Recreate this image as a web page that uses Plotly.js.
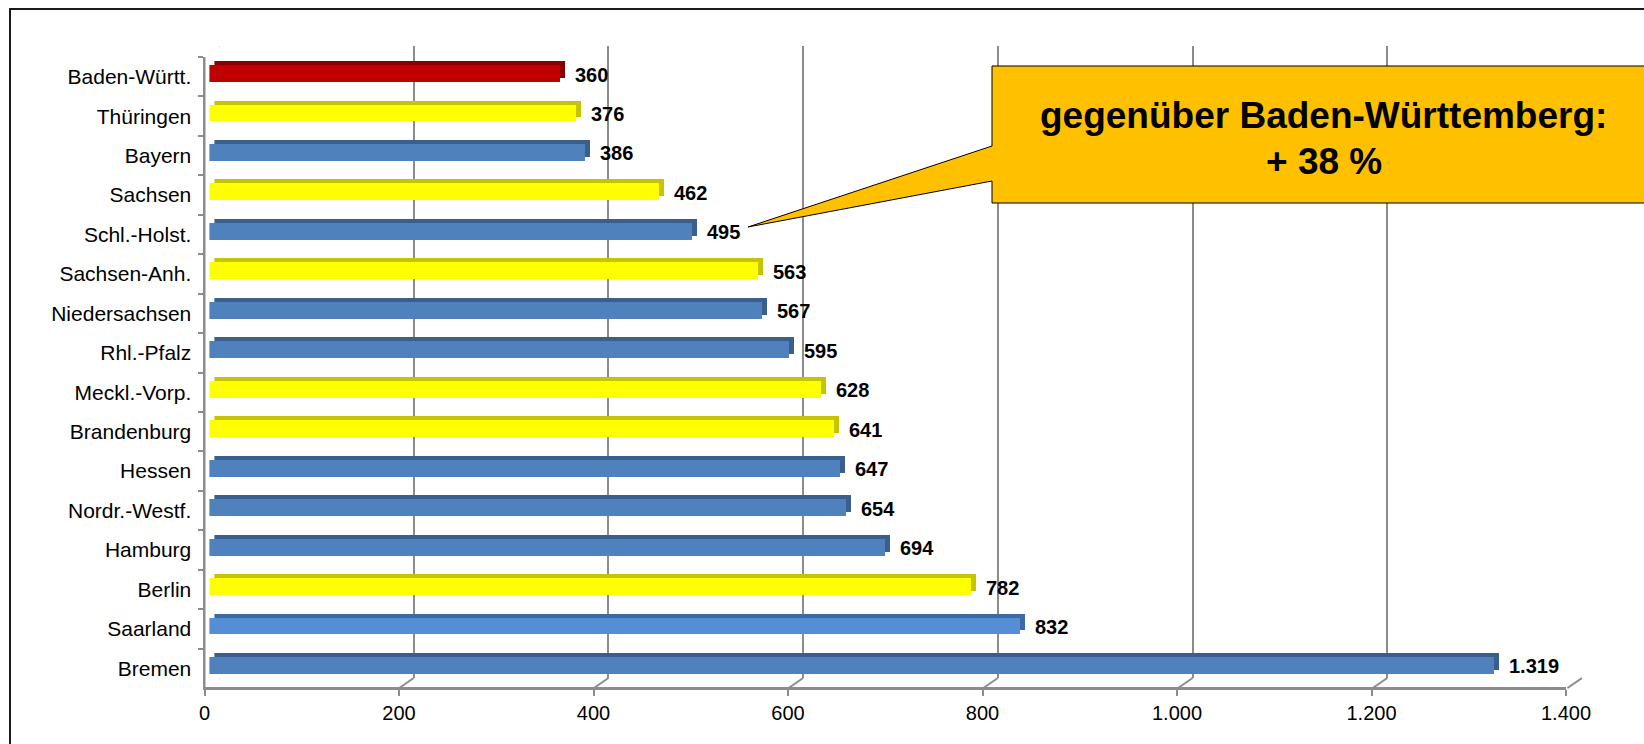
<!DOCTYPE html>
<html>
<head>
<meta charset="utf-8">
<script src="https://cdn.plot.ly/plotly-3.0.1.min.js"></script>
<style>html,body{margin:0;padding:0;background:#fff;}#chart{width:1644px;height:744px;}</style>
</head>
<body>
<div id="chart"></div>
<script>
// ---- data (top to bottom) ----
const categories = ["Baden-Württ.","Thüringen","Bayern","Sachsen","Schl.-Holst.","Sachsen-Anh.","Niedersachsen","Rhl.-Pfalz","Meckl.-Vorp.","Brandenburg","Hessen","Nordr.-Westf.","Hamburg","Berlin","Saarland","Bremen"];
const values = [360,376,386,462,495,563,567,595,628,641,647,654,694,782,832,1319];
const groups = ["BW","Ost","West","Ost","West","Ost","West","West","Ost","Ost","West","West","West","Ost","West2","West"];
const tickValues = [0,200,400,600,800,1000,1200,1400];
const calloutLines = ["gegenüber Baden-Württemberg:", "+ 38 %"];

// ---- styles ----
const faceColor = {BW:"#c00000", Ost:"#ffff00", West:"#4f81bd", West2:"#558ed5"};
const depthColor = {BW:"#8a0000", Ost:"#c4c400", West:"#3a5f8f", West2:"#3d6aa6"};
const W = 1644, H = 744;
const px = x => x / W;
const py = y => (H - y) / H;
const de = n => String(n).replace(/\B(?=(\d{3})+(?!\d))/g, ".");
const gridCol = "#8c8c8c";
const fontFam = "Liberation Sans, Arial, sans-serif";
const catFont = {family: fontFam, size: 21, color: "#000"};
const tickFont = {family: fontFam, size: 20, color: "#000"};
const nCat = categories.length;
const catRange = [nCat - 0.5, -0.5];

const traces = [
  {type:"scatter", x: values, y: categories, xaxis:"x", yaxis:"y", mode:"markers",
   marker:{opacity:0}, hoverinfo:"skip"},
  {type:"scatter", x:[0], y:[0], xaxis:"x2", yaxis:"y2", mode:"markers",
   marker:{opacity:0}, hoverinfo:"skip"},
  {type:"bar", orientation:"h", x: values, y: categories, xaxis:"x3", yaxis:"y3",
   width: 0.43, marker:{color: groups.map(g => depthColor[g]), line:{width:0}}, hoverinfo:"skip"},
  {type:"bar", orientation:"h", x: values, y: categories, xaxis:"x4", yaxis:"y4",
   width: 0.43, marker:{color: groups.map(g => faceColor[g]), line:{width:0}}, hoverinfo:"skip"}
];

const hiddenAx = {showgrid:false, zeroline:false, showline:false, showticklabels:false, ticks:""};

const shapes = [];
tickValues.forEach(t => {
  shapes.push({type:"line", xref:"x2", xsizemode:"pixel", xanchor:t, x0:0, x1:-14.5,
    yref:"paper", ysizemode:"pixel", yanchor:py(678), y0:0, y1:-10,
    line:{color:gridCol, width:2}, layer:"below"});
});
shapes.push({type:"line", xref:"x2", xsizemode:"pixel", xanchor:0, x0:0, x1:-14.5,
  yref:"paper", ysizemode:"pixel", yanchor:py(46), y0:0, y1:-11,
  line:{color:gridCol, width:2}, layer:"below"});
// front axis lines
shapes.push({type:"line", xref:"x", yref:"paper", x0:tickValues[0], x1:tickValues[tickValues.length-1],
  y0:py(688), y1:py(688), line:{color:gridCol, width:2}, layer:"below"});
shapes.push({type:"line", xref:"x", yref:"paper", x0:tickValues[0], x1:tickValues[0],
  y0:py(688), y1:py(57), line:{color:gridCol, width:2}, layer:"below"});
// outer frame
shapes.push({type:"rect", xref:"paper", yref:"paper", x0:px(10), x1:1.02, y0:-0.02, y1:py(9),
  line:{color:"#1a1a1a", width:2}, fillcolor:"rgba(0,0,0,0)"});
// callout
const cp = [[992,66],[1660,66],[1660,203],[992,203],[992,181],[748,227],[992,146]];
shapes.push({type:"path", xref:"paper", yref:"paper",
  path: "M " + cp.map(p => px(p[0]) + "," + py(p[1])).join(" L ") + " Z",
  fillcolor:"#ffc000", line:{color:"#000", width:1}, layer:"above"});

const annotations = values.map((v, i) => ({
  x: v, y: categories[i], xref:"x4", yref:"y4", xanchor:"left", yanchor:"middle",
  xshift: 13, yshift: -1, showarrow:false, text: "<b>" + de(v) + "</b>",
  font: {family:fontFam, size:20, color:"#000"}
}));
annotations.push({x: px(1323), y: py(116), xref:"paper", yref:"paper", xanchor:"center", yanchor:"middle",
  showarrow:false, text:"<b>" + calloutLines[0] + "</b>",
  font:{family:fontFam, size:37, color:"#000"}});
annotations.push({x: px(1324), y: py(161), xref:"paper", yref:"paper", xanchor:"center", yanchor:"middle",
  showarrow:false, text:"<b>" + calloutLines[1] + "</b>",
  font:{family:fontFam, size:37, color:"#000"}});

const layout = {
  width: W, height: H, margin:{l:0, r:0, t:0, b:0},
  paper_bgcolor:"#fff", plot_bgcolor:"rgba(0,0,0,0)", showlegend:false,
  bargap: 0,
  xaxis: {domain:[px(204.5), px(1566)], range:[0,1400], anchor:"y",
    tickvals: tickValues, ticktext: tickValues.map(de), ticks:"outside", ticklen:6,
    tickcolor:gridCol, tickwidth:2, showline:true, linecolor:gridCol, linewidth:2,
    showgrid:false, zeroline:false, tickfont: tickFont, ticklabelstandoff: 0},
  yaxis: {domain:[py(688), py(57)], type:"category", categoryorder:"array",
    categoryarray: categories, range: catRange, anchor:"x",
    tickson:"boundaries", ticks:"outside", ticklen:5, tickcolor:gridCol, tickwidth:2,
    showline:true, linecolor:gridCol, linewidth:2, showgrid:false, zeroline:false,
    tickfont: catFont, ticklabelstandoff: 7},
  xaxis2: Object.assign({}, hiddenAx, {domain:[px(219), px(1582)], range:[0,1400], anchor:"y2",
    showgrid:true, gridcolor:gridCol, gridwidth:2, tickvals: tickValues}),
  yaxis2: Object.assign({}, hiddenAx, {domain:[py(678), py(46)], range:[0,1], anchor:"x2"}),
  xaxis3: Object.assign({}, hiddenAx, {domain:[px(214.4), px(1578)], range:[0,1400], anchor:"y3"}),
  yaxis3: Object.assign({}, hiddenAx, {domain:[py(681.2), py(49.8)], type:"category",
    categoryorder:"array", categoryarray: categories, range: catRange, anchor:"x3"}),
  xaxis4: Object.assign({}, hiddenAx, {domain:[px(209.4), px(1573)], range:[0,1400], anchor:"y4"}),
  yaxis4: Object.assign({}, hiddenAx, {domain:[py(685.2), py(53.8)], type:"category",
    categoryorder:"array", categoryarray: categories, range: catRange, anchor:"x4"}),
  shapes: shapes,
  annotations: annotations
};

Plotly.newPlot("chart", traces, layout, {staticPlot:true, displayModeBar:false});
</script>
</body>
</html>
